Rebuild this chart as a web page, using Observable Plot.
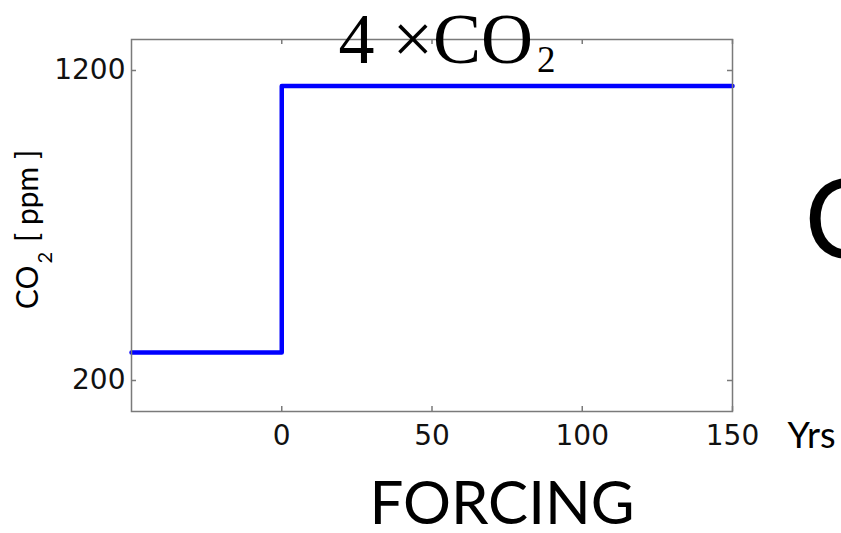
<!DOCTYPE html>
<html><head><meta charset="utf-8">
<script src="https://cdn.jsdelivr.net/npm/d3@7"></script>
<script src="https://cdn.jsdelivr.net/npm/@observablehq/plot@0.6"></script>
<style>body{margin:0;background:#fff}</style>
</head><body><div id="chart"></div>
<script>
// Data
const years = [-50, 0, 150];
const co2 = [290, 1150, 1150];
const xTicks = [0, 50, 100, 150];
const yTicks = [200, 1200];
const xDomain = [-50, 150];
const yDomain = [100, 1300];
const titleText = "4 ×CO2";
const yLabel = "CO2 [ ppm ]";
const xUnit = "Yrs";
const caption = "FORCING";
const cutLetter = "C";

const data = years.map((t, i) => ({t, v: co2[i]}));
const W = 841, H = 533, mt = 39, mb = 122, ml = 131, mr = 109;
const fh = H - mt - mb, fw = W - ml - mr;
const axisColor = "#7a7a7a";

const plot = Plot.plot({
  width: W, height: H,
  marginTop: mt, marginBottom: mb, marginLeft: ml, marginRight: mr,
  style: {background: "#fff", overflow: "visible"},
  x: {domain: xDomain, label: null},
  y: {domain: yDomain, label: null},
  marks: [
    Plot.line(data, {x: "t", y: "v", curve: "step-after", stroke: "#0000ff", strokeWidth: 4.5}),
    Plot.tickX(xTicks, {x: d => d, insetTop: fh - 5, stroke: axisColor, strokeWidth: 1.5}),
    Plot.tickX(xTicks, {x: d => d, insetBottom: fh - 5, stroke: axisColor, strokeWidth: 1.5}),
    Plot.tickY(yTicks, {y: d => d, insetRight: fw - 5, stroke: axisColor, strokeWidth: 1.5}),
    Plot.tickY(yTicks, {y: d => d, insetLeft: fw - 5, stroke: axisColor, strokeWidth: 1.5}),
    Plot.frame({stroke: axisColor, strokeWidth: 1.5}),
    Plot.axisX(xTicks, {tickSize: 0, tickPadding: 14, tickFormat: d => String(d), fontSize: 28, fontFamily: "DejaVu Sans", fill: "#111", label: null}),
    Plot.axisY(yTicks, {tickSize: 0, tickPadding: 6, tickFormat: d => String(d), fontSize: 28, fontFamily: "DejaVu Sans", fill: "#111", label: null}),
    Plot.text([titleText], {text: d => d, frameAnchor: "top", dx: 15, dy: 0, lineAnchor: "middle", fontSize: 72, fontFamily: "Liberation Serif", fill: "#000"}),
    Plot.text([yLabel], {text: d => d, frameAnchor: "left", rotate: -90, dx: -103, dy: 4, lineAnchor: "middle", textAnchor: "middle", fontSize: 30, fontFamily: "Lato", fill: "#000"}),
    Plot.text([xUnit], {text: d => d, frameAnchor: "bottom-right", textAnchor: "start", dx: 55, dy: 24.5, lineAnchor: "middle", fontSize: 36, fontFamily: "Lato", fill: "#000"}),
    Plot.text([caption], {text: d => d, frameAnchor: "bottom", dx: 70, dy: 93.5, lineAnchor: "middle", fontSize: 60, fontFamily: "Lato", fill: "#000"}),
    Plot.text([cutLetter], {text: d => d, frameAnchor: "right", textAnchor: "start", dx: 72, dy: -3, lineAnchor: "middle", fontSize: 110, fontFamily: "Lato", fill: "#000"})
  ]
});

// subscripts
plot.querySelectorAll("text").forEach(t => {
  if (t.textContent === titleText) {
    t.innerHTML = '4 ×CO<tspan dx="4" dy="9" font-size="37">2</tspan>';
  } else if (t.textContent === yLabel) {
    t.innerHTML = 'CO<tspan dx="2" dy="14" font-size="20">2</tspan><tspan dy="-14" dx="10">[ ppm ]</tspan>';
  }
});
document.getElementById("chart").appendChild(plot);
</script>
</body></html>
